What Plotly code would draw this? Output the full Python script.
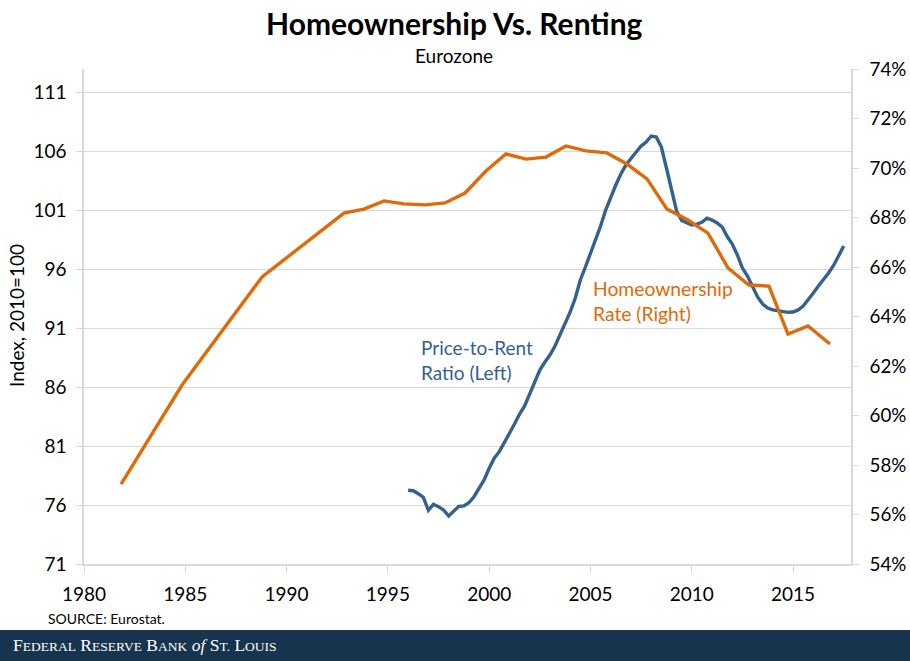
"""Homeownership vs. renting, eurozone chart."""
import plotly.graph_objects as go

WIDTH = 910
HEIGHT = 661
PLOT_LEFT, PLOT_RIGHT, PLOT_TOP, PLOT_BOTTOM = 84, 851, 69, 564

FONT = "Lato"
BLUE = "#34618f"
ORANGE = "#e0690a"
GRID = "#d9d9d9"
BANNER = "#17344f"

# homeownership rate, right axis (%)
rate_years = [1981.83, 1984.84, 1988.79, 1992.83, 1993.82, 1994.81, 1995.79, 1996.83,
              1997.82, 1998.81, 1999.84, 2000.83, 2001.82, 2002.80, 2003.79, 2004.78,
              2005.81, 2006.80, 2007.79, 2008.78, 2009.81, 2010.80, 2011.79, 2012.82,
              2013.81, 2014.75, 2015.74, 2016.82]
rate_values = [57.23, 61.23, 65.60, 68.18, 68.34, 68.67, 68.55, 68.51,
               68.59, 68.99, 69.88, 70.57, 70.36, 70.44, 70.89, 70.69,
               70.61, 70.16, 69.56, 68.34, 67.90, 67.37, 65.96, 65.27,
               65.23, 63.29, 63.62, 62.89]

# price-to-rent ratio, left axis, quarterly from 1996
ratio_start = 1996
ratio_values = [77.25, 77.21, 76.96, 76.65, 75.55, 76.06, 75.86, 75.58, 75.07, 75.52,
                75.89, 75.92, 76.19, 76.70, 77.42, 78.12, 79.11, 79.96, 80.52, 81.23,
                82.08, 82.86, 83.71, 84.39, 85.41, 86.51, 87.44, 88.12, 88.71, 89.47,
                90.41, 91.25, 92.36, 93.54, 95.07, 96.17, 97.27, 98.37, 99.64, 101.0,
                102.1, 103.12, 104.05, 104.81, 105.36, 105.87, 106.42, 106.76, 107.27, 107.19,
                106.34, 104.56, 102.69, 100.92, 100.11, 99.90, 99.73, 99.81, 99.96, 100.30,
                100.15, 99.90, 99.56, 98.75, 98.12, 97.19, 96.08, 95.41, 94.56, 93.63,
                93.03, 92.69, 92.53, 92.44, 92.36, 92.33, 92.36, 92.53, 92.86, 93.37,
                93.97, 94.56, 95.07, 95.66, 96.30, 97.10, 97.95]
ratio_years = [ratio_start + i / 4 for i in range(len(ratio_values))]

left_ticks = [71, 76, 81, 86, 91, 96, 101, 106, 111]
right_ticks = [54, 56, 58, 60, 62, 64, 66, 68, 70, 72, 74]
right_labels = ["54%", "56%", "58%", "60%", "62%", "64%", "66%", "68%", "70%", "72%", "74%"]
year_ticks = [1980, 1985, 1990, 1995, 2000, 2005, 2010, 2015]


def px_x(x):
    return (x - PLOT_LEFT) / (PLOT_RIGHT - PLOT_LEFT)


def px_y(y):
    return (PLOT_BOTTOM - y) / (PLOT_BOTTOM - PLOT_TOP)


def label(fig, x, y, text, size, color="black", xanchor="center", **kwargs):
    fig.add_annotation(x=px_x(x), y=px_y(y), xref="paper", yref="paper", text=text,
                       showarrow=False, xanchor=xanchor, yanchor="middle", align="left",
                       font=dict(family=kwargs.pop("family", FONT), size=size, color=color),
                       **kwargs)


fig = go.Figure()
fig.add_trace(go.Scatter(x=rate_years, y=rate_values, yaxis="y2", mode="lines",
                         line=dict(color=ORANGE, width=3.4)))
fig.add_trace(go.Scatter(x=ratio_years, y=ratio_values, mode="lines",
                         line=dict(color=BLUE, width=3.4)))

fig.update_layout(
    width=WIDTH,
    height=HEIGHT,
    margin=dict(l=PLOT_LEFT, r=WIDTH - PLOT_RIGHT, t=PLOT_TOP, b=HEIGHT - PLOT_BOTTOM, pad=0,
                autoexpand=False),
    paper_bgcolor="white",
    plot_bgcolor="white",
    showlegend=False,
    font=dict(family=FONT, size=19, color="black"),
    xaxis=dict(range=[1980, 2017.86], tickvals=year_ticks, ticks="outside", ticklen=7,
               tickcolor=GRID, showgrid=False, showline=True, linecolor=GRID, linewidth=1.5,
               zeroline=False, ticklabelstandoff=5, tickfont=dict(size=19)),
    yaxis=dict(range=[71, 112.95], tickvals=left_ticks, ticks="outside", ticklen=6,
               tickcolor=GRID, gridcolor=GRID, gridwidth=1.1, showline=True, linecolor=GRID,
               linewidth=1.5, zeroline=False, ticklabelstandoff=6, tickfont=dict(size=19)),
    yaxis2=dict(range=[54, 74], tickvals=right_ticks, ticktext=right_labels, overlaying="y",
                side="right", ticks="outside", ticklen=6, tickcolor=GRID, showgrid=False,
                showline=True, linecolor=GRID, linewidth=1.5, zeroline=False,
                ticklabelstandoff=7, tickfont=dict(size=18.8)),
)

# footer banner
fig.add_shape(type="rect", xref="paper", yref="paper", layer="above", line_width=0,
              fillcolor=BANNER, x0=px_x(0), x1=px_x(WIDTH), y0=px_y(HEIGHT), y1=px_y(630))

label(fig, 454, 23, "<b>Homeownership Vs. Renting</b>", 30)
label(fig, 454, 55, "Eurozone", 19)
label(fig, 16, 316, "Index, 2010=100", 19, textangle=-90)
label(fig, 419, 360, "Price-to-Rent<br>Ratio (Left)", 19, color=BLUE, xanchor="left")
label(fig, 591, 301, "Homeownership<br>Rate (Right)", 19.3, color=ORANGE, xanchor="left")
label(fig, 46, 618, "SOURCE: Eurostat.", 14, xanchor="left")

small = '<span style="font-size:13.5px">'
label(fig, 11, 645,
      f'F{small}EDERAL</span> R{small}ESERVE</span> B{small}ANK</span> '
      f'<i>of</i> S{small}T.</span> L{small}OUIS</span>',
      17.5, color="white", xanchor="left", family="Liberation Serif")

fig.write_html("out.html", config={"displayModeBar": False},
               post_script="document.body.style.margin='0';")
